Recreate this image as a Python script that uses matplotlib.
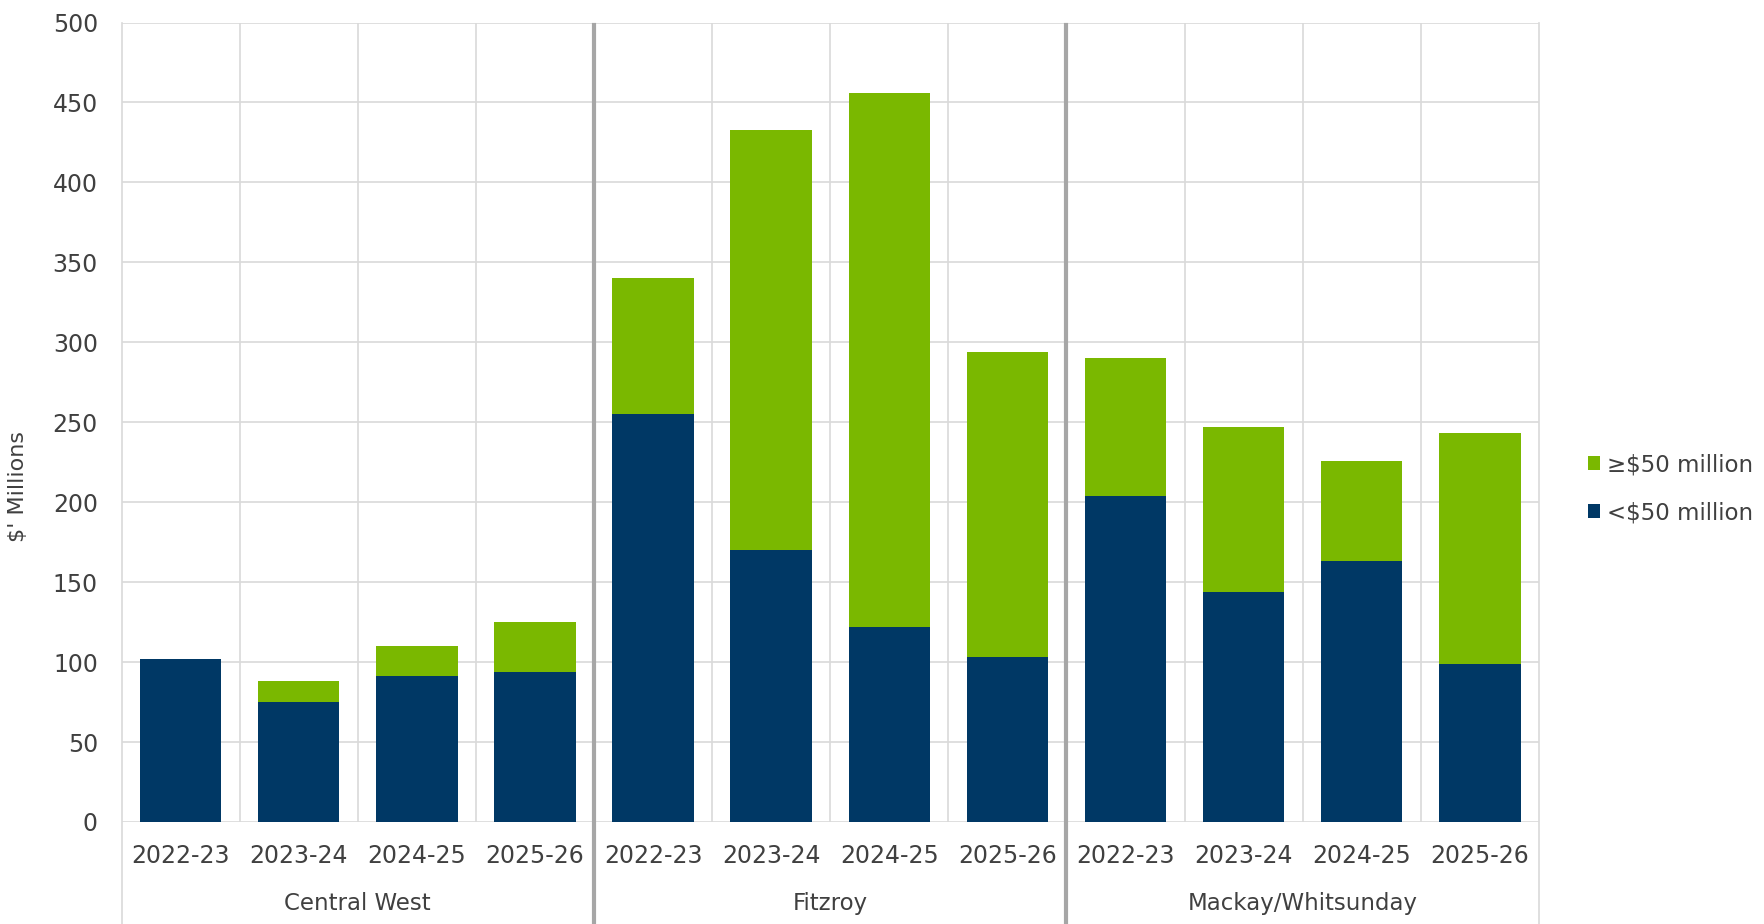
import matplotlib.pyplot as plt
import matplotlib.transforms as mtransforms
import numpy as np

plt.rcParams['font.family'] = ['DejaVu Sans']

# data
regions = ["Central West", "Fitzroy", "Mackay/Whitsunday"]
years = ["2022-23", "2023-24", "2024-25", "2025-26"]
under_50 = [102, 75, 91, 94,
            255, 170, 122, 103,
            204, 144, 163, 99]
total = [102, 88, 110, 125,
         340, 433, 456, 294,
         290, 247, 226, 243]
over_50 = [t - u for t, u in zip(total, under_50)]

navy = "#003865"
green = "#7ab800"
grid_col = "#d9d9d9"
sep_col = "#a6a6a6"
txt_col = "#404040"

fig = plt.figure(figsize=(17.64, 9.24), dpi=100)
ax = fig.add_axes([0.0689, 0.1104, 0.8035, 0.8652])

n = len(regions) * len(years)
x = np.arange(n)
ax.bar(x, under_50, width=0.69, color=navy, label="<$50 million", zorder=3)
ax.bar(x, over_50, width=0.69, bottom=under_50, color=green,
       label="≥$50 million", zorder=3)

ax.set_xlim(-0.5, n - 0.5)
ax.set_ylim(0, 500)
ax.set_yticks(range(0, 501, 50))
ax.yaxis.grid(True, color=grid_col, linewidth=1.2, zorder=0)
ax.tick_params(axis="y", length=0, pad=17, labelsize=17, labelcolor=txt_col)
ax.set_xticks(x)
ax.set_xticklabels(years * len(regions))
ax.tick_params(axis="x", length=0, pad=16, labelsize=17, labelcolor=txt_col)
for s in ax.spines.values():
    s.set_visible(False)

# vertical lines, some run down through the label area
trans = mtransforms.blended_transform_factory(ax.transData, ax.transAxes)
bottom_y = -0.13
for b in np.arange(-0.5, n, 1.0):
    if b in (3.5, 7.5):
        ax.plot([b, b], [bottom_y, 0.997], transform=trans, color=sep_col,
                linewidth=3, clip_on=False, zorder=4)
    elif b in (-0.5, n - 0.5):
        ax.plot([b, b], [bottom_y, 1], transform=trans, color=grid_col,
                linewidth=1.2, clip_on=False, zorder=1)
    else:
        ax.plot([b, b], [0, 1], transform=trans, color=grid_col,
                linewidth=1.2, zorder=1)

for i, r in enumerate(regions):
    ax.text(i * 4 + 1.5, -0.102, r, transform=trans, ha="center", va="center",
            fontsize=16.5, color=txt_col)

ax.set_ylabel("$' Millions", fontsize=16, color=txt_col,
              family=['Liberation Sans Narrow', 'DejaVu Sans'])
ax.yaxis.set_label_coords(-0.066, 0.42)

handles, labels = ax.get_legend_handles_labels()
leg = ax.legend(handles[::-1], labels[::-1], loc="center left",
                bbox_to_anchor=(1.02, 0.417), frameon=False, fontsize=16.5,
                handlelength=0.55, handleheight=0.55, handletextpad=0.3,
                labelspacing=1.1, labelcolor=txt_col)

fig.savefig("out.png", dpi=100)
